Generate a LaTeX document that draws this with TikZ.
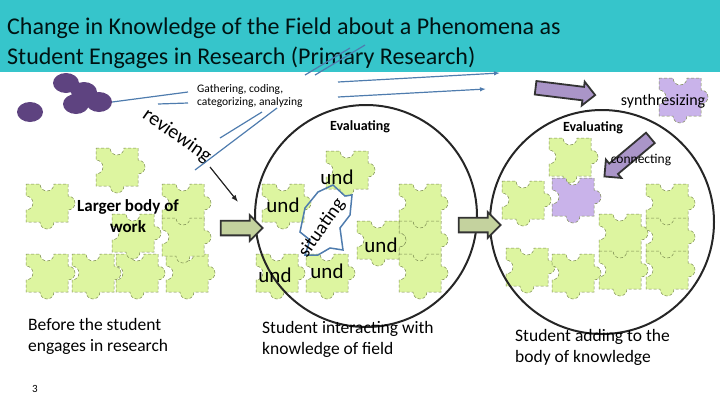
\documentclass[tikz,border=0pt]{standalone}
\usepackage{fontspec}
\setmainfont{Carlito}
\usetikzlibrary{arrows.meta,shapes.arrows,shapes.geometric}
\definecolor{teal1}{HTML}{36C5CB}
\definecolor{lgreen}{HTML}{DDF5A0}
\definecolor{pgreen}{HTML}{7A8A50}
\definecolor{lpurp}{HTML}{C9B3EA}
\definecolor{dpurp}{HTML}{5E4380}
\definecolor{sblue}{HTML}{4F7CAE}
\definecolor{barrowg}{HTML}{C4D29E}
\definecolor{barrowp}{HTML}{AA95C8}
\tikzset{
 pics/pz/.style={code={
  \filldraw[fill=#1,draw=pgreen,densely dashed,line width=0.5pt]
   (-21,-19) -- (-7,-19) arc[start angle=180,end angle=0,radius=7]
   -- (21,-19) -- (21,-7) arc[start angle=-90,end angle=90,radius=7]
   -- (21,19) -- (7,19) arc[start angle=0,end angle=180,radius=7]
   -- (-21,19) -- (-21,7) arc[start angle=90,end angle=-90,radius=7] -- cycle;}},
 pics/pz/.default=lgreen,
 blob/.style={fill=dpurp,ellipse,minimum width=26pt,minimum height=20pt,inner sep=0pt},
 bl/.style={sblue,line width=1.2pt},
 captxt/.style={font=\fontsize{17.5}{21}\selectfont,align=left,anchor=north west,inner sep=0pt},
 und/.style={font=\fontsize{21}{21}\selectfont,inner sep=0pt},
 ev/.style={font=\bfseries\fontsize{14}{16}\selectfont,inner sep=0pt},
 garrow/.style={single arrow,fill=barrowg,draw=black!80,line width=1.8pt,minimum height=42pt,minimum width=26pt,single arrow head extend=3pt,inner sep=3pt},
 parrow/.style={single arrow,fill=barrowp,draw=black!80,line width=1.8pt,minimum height=60pt,minimum width=24pt,single arrow head extend=3pt,inner sep=3pt},
 ring/.style={draw=black!85,line width=2pt},
}
\begin{document}
\begin{tikzpicture}[x=1pt,y=-1pt]
\useasboundingbox (0,0) rectangle (720,405);
\fill[teal1] (0,0) rectangle (720,72);
\node[anchor=west,inner sep=0pt,text=black!85!teal,font=\fontsize{24}{30}\selectfont,align=left] (title) at (7,43) {Change in Knowledge of the Field about a Phenomena as\\Student Engages in Research (Primary Research)};
\node[blob] (b1) at (66,83) {};
\node[blob] (b2) at (84,92) {};
\node[blob] (b3) at (99,102) {};
\node[blob] (b4) at (76,104) {};
\node[blob] (b5) at (30,112) {};
\foreach \x/\y in {117/167,47/203,47/273,93/273,137/273,187/273,133/233,183/203,183/237}{\pic at (\x,\y) {pz};}
\foreach \x/\y in {283/203,347/170,277/273,327/273,420/203,420/240,378/240,420/273}{\pic at (\x,\y) {pz};}
\foreach \x/\y in {570/157,523/200,667/203,620/233,667/237,527/267,573/273,620/270,667/270}{\pic at (\x,\y) {pz};}
\pic at (573,197) {pz=lpurp};
\pic at (680,97) {pz=lpurp};
\draw[ring] (366,216) circle[radius=111];
\draw[ring] (602,222) circle[radius=112];
\draw[sblue,line width=1.5pt] (305,208) -- (318,192) -- (333,185) -- (345,196) -- (352,195) -- (350,215) -- (340,228) -- (343,250) -- (330,248) -- (318,255) -- (305,255) -- (310,240) -- (300,232) -- cycle;
\node[font=\fontsize{19}{19}\selectfont,inner sep=0pt,rotate=55] (sit) at (322,228) {situating};
\node[und] (u1) at (337,177) {und};
\node[und] (u2) at (283,205) {und};
\node[und] (u3) at (381,245) {und};
\node[und] (u4) at (275,275) {und};
\node[und] (u5) at (327,271) {und};
\node[font=\bfseries\fontsize{17}{21}\selectfont,align=center,inner sep=0pt] (lbw) at (128,216) {Larger body of\\work};
\node[font=\fontsize{11.5}{13}\selectfont,align=left,anchor=west,inner sep=0pt] (gath) at (197,96) {Gathering, coding,\\categorizing, analyzing};
\node[font=\fontsize{20}{20}\selectfont,rotate=-35,inner sep=0pt] (rev) at (177,136) {reviewing};
\coordinate (g1) at (188,92); \coordinate (g2) at (188,103);
\draw[bl] (b3.east) -- (g1);
\draw[bl] (158,104) -- (g2);
\draw[bl] (195,170) -- (277,108);
\draw[bl] (220,138) -- (262,112);
\draw[bl] (305,75) -- (350,48);
\draw[bl] (315,75) -- (365,45);
\draw[bl,-{Latex[length=6pt]}] (338,82) -- (500,73);
\draw[bl,-{Latex[length=6pt]}] (338,97) -- (486,89);
\coordinate (ba1) at (210,167); \coordinate (ba2) at (238,202);
\draw[black!85,line width=1.2pt,-{Latex[length=7pt]}] (ba1) -- (ba2);
\node[garrow] (ga1) at (238,228) {};
\node[garrow] (ga2) at (476,225) {};
\node[parrow,rotate=-7] (pa1) at (562,91) {};
\node[parrow,rotate=-140] (pa2) at (630,155) {};
\node[ev] (ev1) at (360,127) {Evaluating};
\node[ev] (ev2) at (593,128) {Evaluating};
\node[font=\fontsize{16}{16}\selectfont,inner sep=0pt] (syn) at (663,101) {synthresizing};
\node[font=\fontsize{13.5}{14}\selectfont,inner sep=0pt] (con) at (641,160) {connecting};
\node[captxt] (c1) at (28,318) {Before the student\\engages in research};
\node[captxt] (c2) at (262,321) {Student interacting with\\knowledge of field};
\node[captxt] (c3) at (515,329) {Student adding to the\\body of knowledge};
\node[font=\fontsize{11}{11}\selectfont,inner sep=0pt] (pg) at (35,389) {3};
\end{tikzpicture}
\end{document}
